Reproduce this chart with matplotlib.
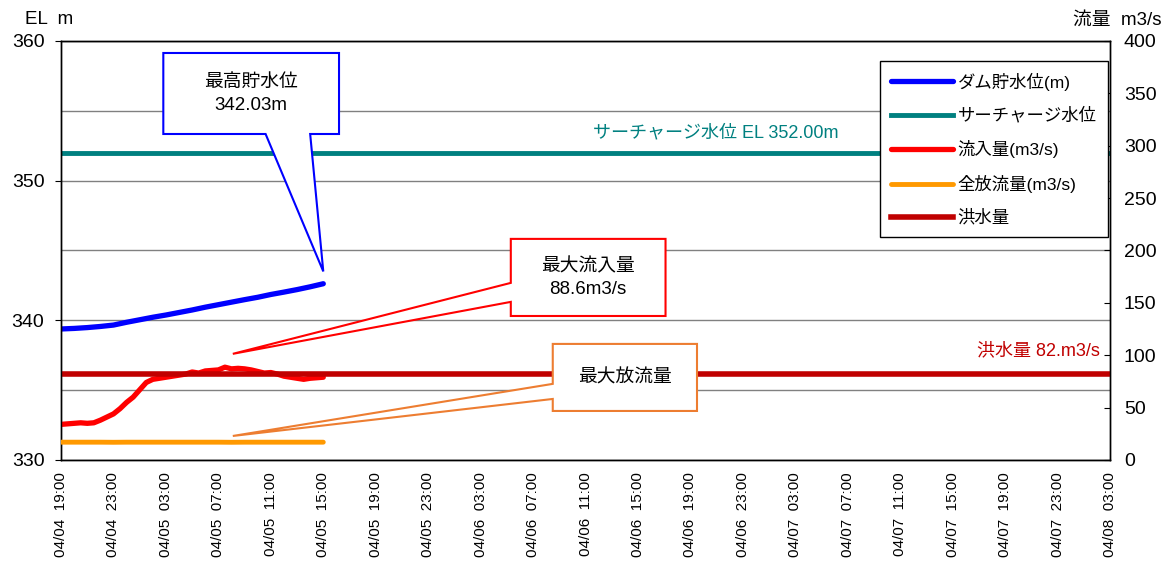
import numpy as np
import matplotlib
matplotlib.use("Agg")
import matplotlib.pyplot as plt
from matplotlib.patches import Polygon

plt.rcParams['font.family'] = ['Liberation Sans', 'Noto Sans CJK JP', 'DejaVu Sans']

# hours since 04/04 19:00
tick_hours = list(range(0, 81, 4))
tick_labels = ["04/04  19:00", "04/04  23:00", "04/05  03:00", "04/05  07:00",
               "04/05  11:00", "04/05  15:00", "04/05  19:00", "04/05  23:00",
               "04/06  03:00", "04/06  07:00", "04/06  11:00", "04/06  15:00",
               "04/06  19:00", "04/06  23:00", "04/07  03:00", "04/07  07:00",
               "04/07  11:00", "04/07  15:00", "04/07  19:00", "04/07  23:00",
               "04/08  03:00"]

level_hours = list(range(0, 21))
level = [339.38, 339.42, 339.48, 339.56, 339.66, 339.86, 340.04, 340.22, 340.38,
         340.56, 340.74, 340.94, 341.12, 341.30, 341.48, 341.65, 341.85, 342.02,
         342.20, 342.40, 342.62]

inflow_hours = [i * 0.5 for i in range(41)]
inflow = [34.0, 34.5, 35.0, 35.5, 35.0, 35.5, 38.0, 41.0, 44.0, 49.0, 55.0, 60.0,
          67.0, 74.0, 77.0, 78.0, 79.0, 80.0, 81.0, 82.0, 84.0, 83.0, 85.0, 85.5,
          86.0, 88.6, 87.0, 87.5, 87.0, 86.0, 84.5, 83.0, 83.5, 82.0, 80.0, 79.0,
          78.0, 77.0, 78.0, 78.5, 79.0]

outflow_hours = list(range(0, 21))
outflow = [17.0, 17.0, 17.0, 17.0, 16.9, 17.0, 17.0, 17.0, 17.0, 17.0, 17.0,
           17.0, 17.0, 16.9, 17.0, 17.0, 17.0, 17.0, 17.0, 17.0, 17.0]

surcharge = 352.00
flood = 82.0

fig = plt.figure(figsize=(11.67, 5.66), dpi=100)
ax = fig.add_axes([0.0523, 0.1873, 0.8989, 0.7403])
ax2 = ax.twinx()

ax.set_xlim(0, 80)
ax.set_ylim(330, 360)
ax2.set_ylim(0, 400)

ax.set_yticks(range(330, 361, 10))
ax.set_yticks(range(335, 360, 10), minor=True)
ax.grid(which='both', axis='y', color='#808080', linewidth=1)
ax.tick_params(axis='y', which='major', labelsize=14, length=4, direction='out', pad=8)
ax.tick_params(axis='y', which='minor', length=0)
ax2.set_yticks(range(0, 401, 50))
ax2.tick_params(axis='y', labelsize=14, length=4, direction='in', pad=10)

ax.set_xticks(tick_hours)
ax.set_xticklabels(tick_labels, rotation=90, fontsize=11)
ax.tick_params(axis='x', length=0, pad=9)

for a in (ax, ax2):
    for s in a.spines.values():
        s.set_color('black')
        s.set_linewidth(1)

l_level, = ax.plot(level_hours, level, color='#0000FF', linewidth=3.8, solid_capstyle='round', label='ダム貯水位(m)')
l_sur = ax.axhline(surcharge, color='#008080', linewidth=3.5, label='サーチャージ水位')
l_in, = ax2.plot(inflow_hours, inflow, color='#FF0000', linewidth=3.8, solid_capstyle='round', label='流入量(m3/s)')
l_out, = ax2.plot(outflow_hours, outflow, color='#FF9900', linewidth=3.5, solid_capstyle='round', label='全放流量(m3/s)')
l_fl = ax2.axhline(flood, color='#C00000', linewidth=4, label='洪水量')
l_out.set_zorder(3)
l_fl.set_zorder(2)

ax.text(49.9, 353.4, 'サーチャージ水位 EL 352.00m', color='#008080', fontsize=13,
        ha='center', va='center')
ax.text(79.2, 337.8, '洪水量 82.m3/s', color='#C00000', fontsize=13,
        ha='right', va='center')

# callouts
callouts = [
    ([(7.8, 359.14), (21.2, 359.14), (21.2, 353.34), (19.0, 353.34), (20.0, 343.5),
      (15.6, 353.34), (7.8, 353.34)], '#0000FF', (14.5, 356.2), '最高貯水位\n342.03m'),
    ([(34.3, 345.83), (46.1, 345.83), (46.1, 340.31), (34.3, 340.31), (34.3, 341.32),
      (13.1, 337.6), (34.3, 342.68)], '#FF0000', (40.2, 343.05), '最大流入量\n88.6m3/s'),
    ([(37.5, 338.31), (48.5, 338.31), (48.5, 333.51), (37.5, 333.51), (37.5, 334.37),
      (13.1, 331.72), (37.5, 335.45)], '#ED7D31', (43.0, 335.85), '最大放流量'),
]
for pts, col, tpos, txt in callouts:
    poly = Polygon(pts, closed=True, facecolor='white', edgecolor=col, linewidth=1.5,
                   transform=ax.transData, zorder=10)
    ax2.add_patch(poly)
    ax2.text(tpos[0], tpos[1], txt, transform=ax.transData, fontsize=13.5,
             ha='center', va='center', linespacing=1.45, zorder=11)

leg = ax2.legend(handles=[l_level, l_sur, l_in, l_out, l_fl], loc='upper right',
                 bbox_to_anchor=(0.998, 0.952), fontsize=12.5, frameon=True,
                 fancybox=False, edgecolor='black', framealpha=1,
                 handlelength=3.6, labelspacing=0.95, borderpad=0.65,
                 handletextpad=0.25, borderaxespad=0)
leg.get_frame().set_linewidth(1)
leg.set_zorder(20)

fig.text(0.021, 0.965, 'EL  m', fontsize=13.5, ha='left', va='center')
fig.text(0.995, 0.965, '流量  m3/s', fontsize=13.5, ha='right', va='center')

fig.savefig('out.png', dpi=100)
